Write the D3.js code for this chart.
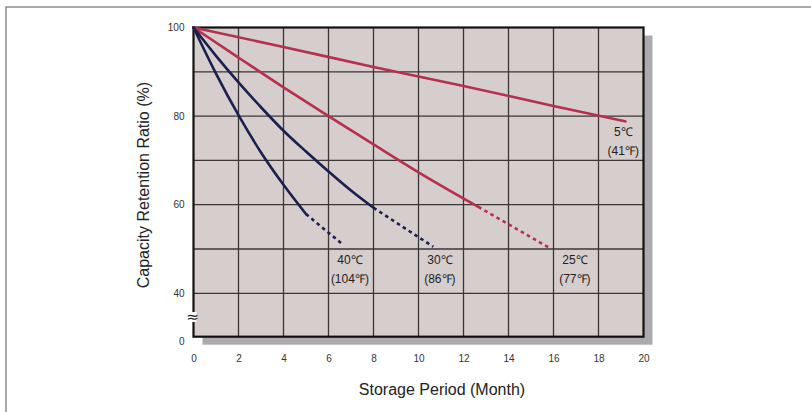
<!DOCTYPE html>
<html>
<head>
<meta charset="utf-8">
<script src="https://cdn.jsdelivr.net/npm/d3@7"></script>
<style>
  body { margin: 0; background: #fff; }
  svg { display: block; font-family: "Liberation Sans", Arial, sans-serif; }
</style>
</head>
<body>
<div id="chart"></div>
<script>
var svgWidth = 811;
var svgHeight = 412;

// storage period (month) and capacity retention (%) for each temperature
var months5 = [0, 4, 8, 12, 16, 19.2];
var retention5 = [100, 95.6, 91.1, 86.8, 82.3, 78.8];

var months25 = [0, 2, 4, 6, 8, 10, 12.66];
var retention25 = [100, 93.2, 86.5, 80.0, 73.6, 67.3, 59.5];
var months25Dash = [12.66, 15.84];
var retention25Dash = [59.5, 50.2];

var months30 = [0, 1, 2, 3, 4, 5, 6, 7, 8];
var retention30 = [100, 93.6, 87.6, 82.0, 76.7, 72.0, 67.5, 63.2, 59.3];
var months30Dash = [8, 10.66];
var retention30Dash = [59.3, 50.5];

var months40 = [0, 1, 2, 3, 4, 5];
var retention40 = [100, 89.6, 80.2, 71.8, 64.5, 57.9];
var months40Dash = [5, 6.66];
var retention40Dash = [57.9, 50.9];

var seriesNames = ["5℃", "25℃", "30℃", "40℃"];
var seriesNamesF = ["(41℉)", "(77℉)", "(86℉)", "(104℉)"];

var xTicks = [0, 2, 4, 6, 8, 10, 12, 14, 16, 18, 20];
var yTicks = [0, 40, 60, 80, 100];
var yTickLabels = ["0", "40", "60", "80", "100"];
var yGrid = [40, 50, 60, 70, 80, 90];

var red = "#b5304f";
var navy = "#1b1f4e";

var svg = d3.select("#chart")
    .append("svg")
    .attr("width", svgWidth)
    .attr("height", svgHeight);

// outer frame
svg.append("rect")
    .attr("x", 6).attr("y", 7)
    .attr("width", 830).attr("height", 430)
    .attr("fill", "none")
    .attr("stroke", "#8c8c8c")
    .attr("stroke-width", 1.5);

// broken axis: 0 sits one grid step below 40
var x = d3.scaleLinear().domain([0, 20]).range([193.5, 643.5]);
var y = d3.scaleLinear().domain([0, 40, 100]).range([336.7, 293.3, 27.5]);

var plotL = x(0), plotR = x(20), plotT = y(100), plotB = y(0);

// shadow
svg.append("rect")
    .attr("x", plotL + 9).attr("y", plotT + 8)
    .attr("width", plotR - plotL).attr("height", plotB - plotT)
    .attr("fill", "#adaaae");

svg.append("rect")
    .attr("x", plotL).attr("y", plotT)
    .attr("width", plotR - plotL).attr("height", plotB - plotT)
    .attr("fill", "#d6cecc");

// grid
svg.append("g").selectAll("line")
    .data(xTicks.slice(1, -1))
    .enter().append("line")
    .attr("x1", d => x(d)).attr("x2", d => x(d))
    .attr("y1", plotT).attr("y2", plotB)
    .attr("stroke", "#3b3536").attr("stroke-width", 1.3);

svg.append("g").selectAll("line")
    .data(yGrid)
    .enter().append("line")
    .attr("x1", plotL).attr("x2", plotR)
    .attr("y1", d => y(d)).attr("y2", d => y(d))
    .attr("stroke", "#3b3536").attr("stroke-width", 1.3);

svg.append("rect")
    .attr("x", plotL).attr("y", plotT)
    .attr("width", plotR - plotL).attr("height", plotB - plotT)
    .attr("fill", "none")
    .attr("stroke", "#111").attr("stroke-width", 2.2);

// axis break mark
svg.append("rect")
    .attr("x", plotL - 3).attr("y", 312)
    .attr("width", 6).attr("height", 10)
    .attr("fill", "#fff");
svg.append("text")
    .attr("x", plotL - 1).attr("y", 322)
    .attr("text-anchor", "middle")
    .style("font-size", "15px")
    .style("font-family", "DejaVu Sans, sans-serif")
    .attr("fill", "#222")
    .text("≈");

// axes (labels only)
var bottomAxis = d3.axisBottom(x).tickValues(xTicks).tickSize(0).tickPadding(18);
var leftAxis = d3.axisLeft(y).tickValues(yTicks).tickSize(0).tickPadding(9)
    .tickFormat((d, i) => yTickLabels[i]);

var gx = svg.append("g")
    .attr("transform", `translate(0, ${plotB})`)
    .call(bottomAxis);
gx.select(".domain").remove();
gx.selectAll("text").style("font-size", "10px").attr("fill", "#333");

var gy = svg.append("g")
    .attr("transform", `translate(${plotL}, 0)`)
    .call(leftAxis);
gy.select(".domain").remove();
gy.selectAll("text").style("font-size", "10px").attr("fill", "#333")
    .attr("dy", d => d === 0 ? "0.8em" : "0.32em");

// curves
var line = d3.line()
    .x(d => x(d[0]))
    .y(d => y(d[1]))
    .curve(d3.curveMonotoneX);

function pairs(a, b) { return a.map((v, i) => [v, b[i]]); }

var solid = [
    [pairs(months5, retention5), red],
    [pairs(months25, retention25), red],
    [pairs(months30, retention30), navy],
    [pairs(months40, retention40), navy]
];
var dashed = [
    [pairs(months25Dash, retention25Dash), red],
    [pairs(months30Dash, retention30Dash), navy],
    [pairs(months40Dash, retention40Dash), navy]
];

svg.append("g").selectAll("path")
    .data(solid)
    .enter().append("path")
    .attr("d", d => line(d[0]))
    .attr("fill", "none")
    .attr("stroke", d => d[1])
    .attr("stroke-width", 2.6)
    .attr("stroke-linecap", "round");

svg.append("g").selectAll("path")
    .data(dashed)
    .enter().append("path")
    .attr("d", d => line(d[0]))
    .attr("fill", "none")
    .attr("stroke", d => d[1])
    .attr("stroke-width", 2.6)
    .attr("stroke-dasharray", "3.5,3.5");

// temperature labels, placed in data units
var labelAt = [[19.1, 75.5], [16.95, 46.6], [10.95, 46.6], [6.95, 46.6]];

var labels = svg.append("g").selectAll("g")
    .data(seriesNames)
    .enter().append("g")
    .attr("transform", (d, i) => `translate(${x(labelAt[i][0])}, ${y(labelAt[i][1])})`);

labels.append("text")
    .attr("text-anchor", "middle")
    .attr("y", 0)
    .style("font-size", "12px")
    .attr("fill", "#222")
    .text(d => d);

labels.append("text")
    .attr("text-anchor", "middle")
    .attr("y", 19)
    .style("font-size", "12px")
    .attr("fill", "#222")
    .text((d, i) => seriesNamesF[i]);

// axis titles
svg.append("text")
    .attr("transform", `translate(149, ${(plotT + plotB) / 2 + 3}) rotate(-90)`)
    .attr("text-anchor", "middle")
    .style("font-size", "16px")
    .attr("fill", "#222")
    .text("Capacity Retention Ratio (%)");

svg.append("text")
    .attr("x", 442)
    .attr("y", 395)
    .attr("text-anchor", "middle")
    .style("font-size", "16px")
    .attr("fill", "#222")
    .text("Storage Period (Month)");
</script>
</body>
</html>
